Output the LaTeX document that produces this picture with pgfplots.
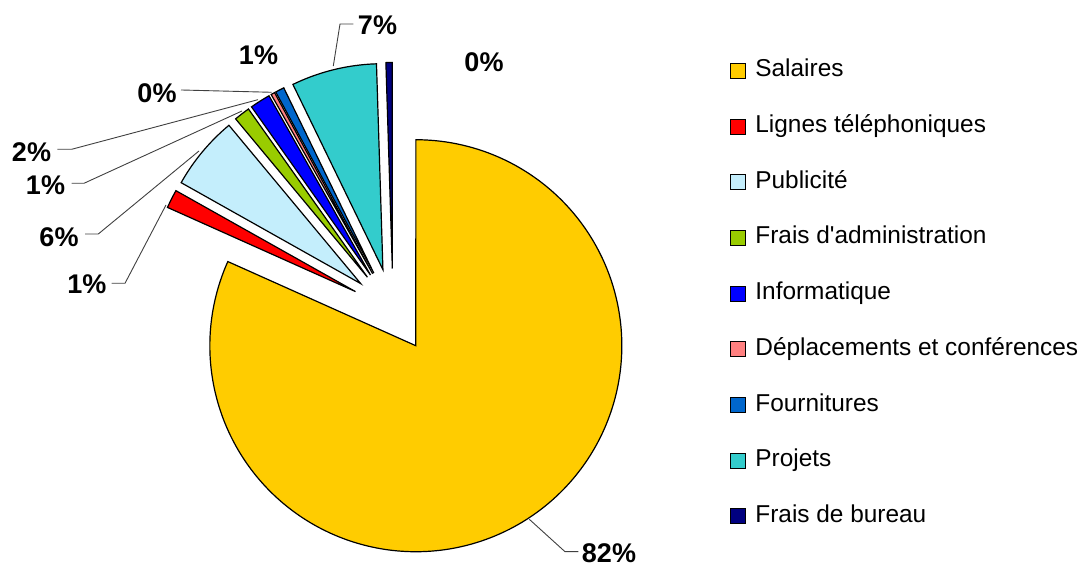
\documentclass[border=0pt]{standalone}
\usepackage{fontspec}
\setmainfont{Liberation Sans}[Ligatures=TeXOff]
\usepackage{pgfplots}
\pgfplotsset{compat=1.18}
\definecolor{cSal}{HTML}{FFCC00}
\definecolor{cTel}{HTML}{FF0000}
\definecolor{cPub}{HTML}{C4EEFC}
\definecolor{cAdm}{HTML}{99CC00}
\definecolor{cInf}{HTML}{0000FF}
\definecolor{cDep}{HTML}{FF8080}
\definecolor{cFou}{HTML}{0066CC}
\definecolor{cPro}{HTML}{33CCCC}
\definecolor{cBur}{HTML}{000080}
% pie geometry (axis units = pixels of the reference)
\def\cx{393}\def\cy{254.5}\def\rr{206}\def\dd{42}
\gdef\cur{90}
\newcommand\slice[3]{%
  \pgfmathsetmacro\sA{\cur}%
  \pgfmathsetmacro\sB{\cur-#1*3.6}%
  \pgfmathsetmacro\sM{(\sA+\sB)/2}%
  \pgfmathsetmacro\ox{\cx+\dd*cos(\sM)}%
  \pgfmathsetmacro\oy{\cy+\dd*sin(\sM)}%
  \pgfmathtruncatemacro\ns{max(4,#1*4)}%
  \edef\doslice{\noexpand\addplot[fill=#2,draw=black,line width=0.6pt,domain=\sB:\sA,samples=\ns]
    ({\ox+\rr*cos(x)},{\oy+\rr*sin(x)}) -- (axis cs:\ox,\oy) -- cycle;}%
  \doslice
  \addlegendentry{#3}%
  \global\let\cur\sB
}
\begin{document}
\begin{tikzpicture}
\begin{axis}[
  scale only axis, width=541.5pt, height=282.5pt,
  xmin=0, xmax=1083, ymin=0, ymax=565,
  hide axis, clip=false,
  legend cell align=left,
  legend image code/.code={\draw[#1,draw=black,line width=0.5pt] (0pt,-3.75pt) rectangle (7.5pt,3.75pt);},
  legend style={at={(axis cs:730,506.5)}, anchor=north west, draw=none, fill=none,
    font=\fontsize{12.2}{14}\selectfont, row sep=15.85pt, inner sep=0pt,
    nodes={inner sep=0pt, text height=9pt, text depth=3pt},
    /tikz/every even column/.append style={column sep=0pt},
    /tikz/every odd column/.append style={column sep=4.5pt}},
]
\path (axis cs:0,0) rectangle (axis cs:1083,565);
\slice{81.7}{cSal}{Salaires}
\slice{1.45}{cTel}{Lignes téléphoniques}
\slice{5.8}{cPub}{Publicité}
\slice{1.25}{cAdm}{Frais d'administration}
\slice{1.6}{cInf}{Informatique}
\slice{0.3}{cDep}{Déplacements et conférences}
\slice{0.7}{cFou}{Fournitures}
\slice{6.7}{cPro}{Projets}
\slice{0.5}{cBur}{Frais de bureau}
% leader lines
\draw[black!75,line width=0.45pt] (axis cs:529.3,45.7) -- (axis cs:565,13.3) -- (axis cs:578.3,13.3);
\draw[black!75,line width=0.45pt] (axis cs:111.7,281.7) -- (axis cs:125,281.7) -- (axis cs:166,360);
\draw[black!75,line width=0.45pt] (axis cs:85,331) -- (axis cs:98.3,331) -- (axis cs:199,414);
\draw[black!75,line width=0.45pt] (axis cs:71.7,381.7) -- (axis cs:84,381.7) -- (axis cs:242,454);
\draw[black!75,line width=0.45pt] (axis cs:57.3,415.7) -- (axis cs:71.7,415.7) -- (axis cs:258,465.3);
\draw[black!75,line width=0.45pt] (axis cs:181,475) -- (axis cs:271.7,472.7);
\draw[black!75,line width=0.45pt] (axis cs:333.3,499) -- (axis cs:340,541) -- (axis cs:353.3,541);
% labels
\begin{scope}[every node/.style={font=\bfseries\fontsize{13.5}{16}\selectfont, inner sep=0pt}]
\node at (axis cs:609,12) {82\%};
\node at (axis cs:87,281) {1\%};
\node at (axis cs:59,328) {6\%};
\node at (axis cs:45.5,380) {1\%};
\node at (axis cs:31.5,413) {2\%};
\node at (axis cs:157,472) {0\%};
\node at (axis cs:258.5,510) {1\%};
\node at (axis cs:377.5,540) {7\%};
\node at (axis cs:484,503) {0\%};
\end{scope}
\end{axis}
\end{tikzpicture}
\end{document}
